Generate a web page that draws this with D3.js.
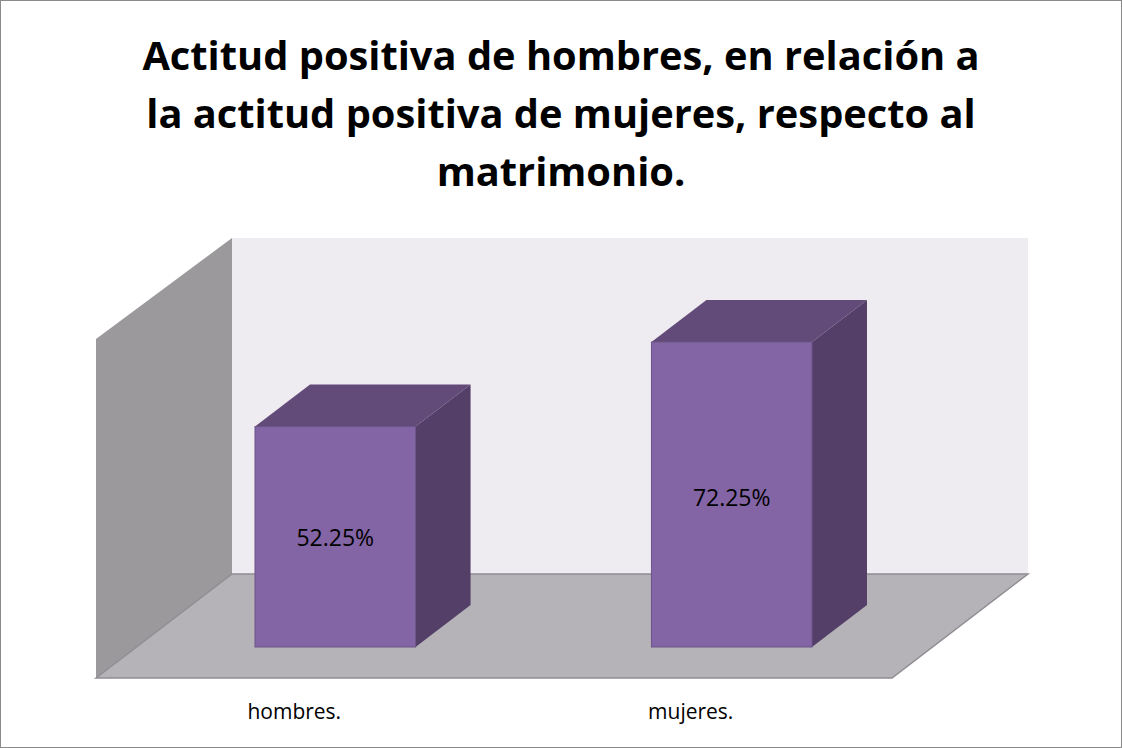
<!DOCTYPE html>
<html>
<head>
<meta charset="utf-8">
<script src="https://d3js.org/d3.v7.min.js"></script>
<style>
html, body { margin: 0; padding: 0; background: #fff; }
text { font-family: "Open Sans", sans-serif; }
</style>
</head>
<body>
<div id="chart"></div>
<script>
const WIDTH = 1122;
const HEIGHT = 748;

const categories = ["hombres.", "mujeres."];
const values = [52.25, 72.25];
const titleLines = [
    "Actitud positiva de hombres, en relación a",
    "la actitud positiva de mujeres, respecto al",
    "matrimonio."
];

/** Front plane of the 3D box. */
const FLOOR_Y = 647;
const DEPTH_X = 55;
const DEPTH_Y = -42;

// Value axis runs 0 to 100 on the front plane
const y = d3.scaleLinear().domain([0, 100]).range([FLOOR_Y, FLOOR_Y - 422]);

const x = d3.scaleBand()
    .domain(categories)
    .range([255, 812])
    .paddingInner(0.595);

const path = (pts) => "M" + pts.map(p => p.join(",")).join("L") + "Z";

let svg = d3.select("#chart").append("svg")
    .attr("width", WIDTH)
    .attr("height", HEIGHT)
    .style("display", "block");

// Chart border
svg.append("rect")
    .attr("x", 0.5).attr("y", 0.5)
    .attr("width", WIDTH - 1).attr("height", HEIGHT - 1)
    .attr("fill", "#fff")
    .attr("stroke", "#8a8a8a");

// Title
svg.append("g").selectAll("text")
    .data(titleLines)
    .enter()
    .append("text")
    .attr("x", 561)
    .attr("y", (d, i) => 70 + i * 58)
    .attr("text-anchor", "middle")
    .attr("font-size", 39.8)
    .attr("font-weight", 700)
    .attr("fill", "#000")
    .text(d => d);

// Back wall
svg.append("rect")
    .attr("x", 232).attr("y", 238)
    .attr("width", 796).attr("height", 336)
    .attr("fill", "#eeebf1");

// Side wall
svg.append("path")
    .attr("d", path([[96, 339], [232, 238], [232, 574], [96, 678]]))
    .attr("fill", "#9b999c");

// Floor
svg.append("path")
    .attr("d", path([[96, 678], [232, 574], [1028, 574], [892, 678]]))
    .attr("fill", "#b5b3b8")
    .attr("stroke", "#8f8d92")
    .attr("stroke-width", 1.5);

// Bars
const bars = svg.append("g").selectAll("g")
    .data(categories)
    .enter()
    .append("g");

const barLeft = (d) => x(d);
const barRight = (d) => x(d) + x.bandwidth();
const barTop = (i) => y(values[i]);

// Right face
bars.append("path")
    .attr("d", (d, i) => path([
        [barRight(d), barTop(i)],
        [barRight(d) + DEPTH_X, barTop(i) + DEPTH_Y],
        [barRight(d) + DEPTH_X, FLOOR_Y + DEPTH_Y],
        [barRight(d), FLOOR_Y]
    ]))
    .attr("fill", "#533f68");

// Top face
bars.append("path")
    .attr("d", (d, i) => path([
        [barLeft(d), barTop(i)],
        [barLeft(d) + DEPTH_X, barTop(i) + DEPTH_Y],
        [barRight(d) + DEPTH_X, barTop(i) + DEPTH_Y],
        [barRight(d), barTop(i)]
    ]))
    .attr("fill", "#624b79");

// Front face
bars.append("rect")
    .attr("x", d => barLeft(d))
    .attr("y", (d, i) => barTop(i))
    .attr("width", x.bandwidth())
    .attr("height", (d, i) => FLOOR_Y - barTop(i))
    .attr("fill", "#8364a5")
    .attr("stroke", "#6b5488")
    .attr("stroke-width", 1);

// Value labels
bars.append("text")
    .attr("x", d => barLeft(d) + x.bandwidth() / 2)
    .attr("y", (d, i) => (i === 0 ? 546 : 506))
    .attr("text-anchor", "middle")
    .attr("font-size", 23)
    .attr("fill", "#000")
    .text((d, i) => values[i].toFixed(2) + "%");

// Category labels
svg.append("g").selectAll("text")
    .data(categories)
    .enter()
    .append("text")
    .attr("x", d => barLeft(d) + x.bandwidth() / 2 - 41)
    .attr("y", 719)
    .attr("text-anchor", "middle")
    .attr("font-size", 21)
    .attr("fill", "#000")
    .text(d => d);
</script>
</body>
</html>
